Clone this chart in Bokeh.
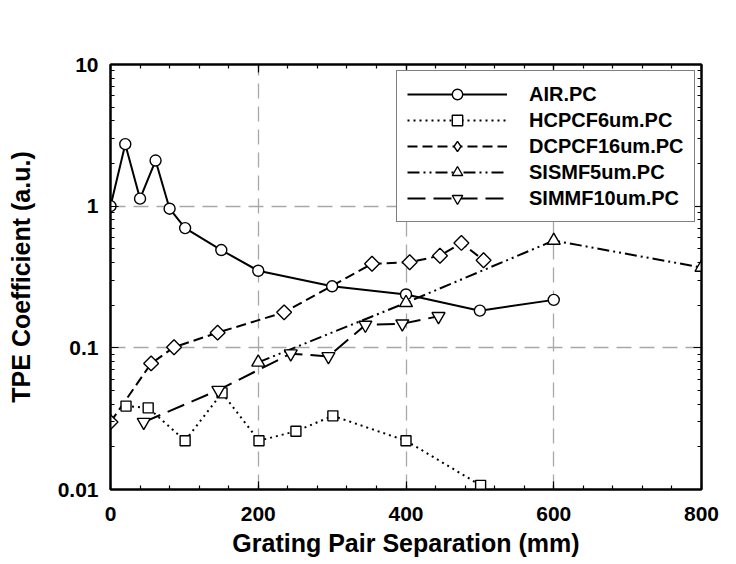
import math
from bokeh.plotting import figure
from bokeh.models import (Range1d, LinearAxis, LogAxis, FixedTicker, Legend, LegendItem)
from bokeh.embed import file_html
from bokeh.resources import INLINE

# ---- data ----
air_x = [0, 20, 40, 61, 80, 101, 150, 200, 300, 400, 500, 600]
air_y = [1.0, 2.74, 1.13, 2.10, 0.96, 0.70, 0.49, 0.35, 0.272, 0.238, 0.183, 0.218]

hc_x = [21, 51, 101, 151, 201, 251, 301, 400, 501]
hc_y = [0.0388, 0.0377, 0.0221, 0.0481, 0.0221, 0.0258, 0.0331, 0.0221, 0.0107]

dc_x = [0, 55, 86, 145, 235, 354, 405, 446, 475, 505]
dc_y = [0.0299, 0.0776, 0.101, 0.128, 0.178, 0.392, 0.402, 0.447, 0.550, 0.415]

sm_x = [200, 400, 600, 800]
sm_y = [0.079, 0.208, 0.572, 0.369]

mm_x = [45, 146, 244, 295, 345, 395, 444]
mm_y = [0.0299, 0.0503, 0.091, 0.087, 0.145, 0.148, 0.167]

x_ticks = [0, 200, 400, 600, 800]
x_tick_labels = ["0", "200", "400", "600", "800"]
x_minor = list(range(0, 801, 40))
y_ticks = [0.01, 0.1, 1, 10]
y_tick_labels = ["0.01", "0.1", "1", "10"]
y_minor = [m * 10.0 ** d for d in (-2, -1, 0) for m in range(1, 10)]

FONT = "Liberation Sans"

p = figure(width=736, height=564, y_axis_type="log",
           x_range=Range1d(0, 800), y_range=Range1d(0.01, 10),
           output_backend="svg", toolbar_location=None,
           min_border_left=110, min_border_right=35,
           min_border_top=64, min_border_bottom=75)
p.background_fill_color = "white"
p.border_fill_color = "white"
p.outline_line_color = "black"
p.outline_line_width = 2

xt = FixedTicker(ticks=x_ticks, minor_ticks=x_minor)
yt = FixedTicker(ticks=y_ticks, minor_ticks=y_minor)

def style_axis(ax, show_labels):
    ax.axis_line_color = "black"
    ax.axis_line_width = 2
    ax.major_tick_in = 8
    ax.major_tick_out = 0
    ax.minor_tick_in = 4
    ax.minor_tick_out = 0
    ax.major_tick_line_width = 1.2
    ax.minor_tick_line_width = 1.2
    if show_labels:
        ax.major_label_text_font = FONT
        ax.major_label_text_font_style = "bold"
        ax.major_label_text_font_size = "21px"
        ax.major_label_text_color = "black"
        ax.axis_label_text_font = FONT
        ax.axis_label_text_font_style = "bold"
        ax.axis_label_text_font_size = "25px"
        ax.axis_label_text_color = "black"
    else:
        ax.major_label_text_font_size = "2px"
        ax.major_label_text_alpha = 0.0
        ax.major_label_standoff = 0

xa = p.xaxis[0]
xa.ticker = xt
xa.major_label_overrides = {t: l for t, l in zip(x_ticks, x_tick_labels)}
xa.axis_label = "Grating Pair Separation (mm)"
style_axis(xa, True)
xa.major_label_standoff = 17
xa.axis_label_standoff = 5

ya = p.yaxis[0]
ya.ticker = yt
ya.major_label_overrides = {t: l for t, l in zip(y_ticks, y_tick_labels)}
ya.axis_label = "TPE Coefficient (a.u.)"
style_axis(ya, True)
ya.major_label_standoff = 12
ya.axis_label_standoff = 20

top = LinearAxis(ticker=xt)
style_axis(top, False)
p.add_layout(top, "above")
right = LogAxis(ticker=yt)
style_axis(right, False)
p.add_layout(right, "right")

for g, t in ((p.xgrid[0], xt), (p.ygrid[0], yt)):
    g.ticker = t
    g.grid_line_color = "#a8a8a8"
    g.grid_line_width = 1.3
    g.grid_line_dash = "15 8"

LW = 2
MK = dict(fill_color="white", line_color="black", line_width=1.4)

r1l = p.line(air_x, air_y, line_color="black", line_width=LW)
r2l = p.line(hc_x, hc_y, line_color="black", line_width=LW, line_dash="2 4")
r3l = p.line(dc_x, dc_y, line_color="black", line_width=LW, line_dash="10 5")
r4l = p.line(sm_x, sm_y, line_color="black", line_width=LW, line_dash="12 4 2 4 2 4")
r5l = p.line(mm_x, mm_y, line_color="black", line_width=LW, line_dash="18 8")

r1m = p.scatter(air_x, air_y, marker="circle", size=11, **MK)
r2m = p.scatter(hc_x, hc_y, marker="square", size=10, **MK)
# diamond glyph used for the legend key; it sits under the first plotted diamond
r3leg = p.scatter(dc_x[:1], dc_y[:1], marker="diamond", size=14, **MK)
r3m = p.scatter(dc_x, dc_y, marker="square", size=10.5, angle=math.pi / 4, **MK)
r4m = p.scatter(sm_x, sm_y, marker="triangle", size=13, **MK)
r5m = p.scatter(mm_x, mm_y, marker="inverted_triangle", size=13, **MK)

legend = Legend(items=[
    LegendItem(label="AIR.PC", renderers=[r1l, r1m]),
    LegendItem(label="HCPCF6um.PC", renderers=[r2l, r2m]),
    LegendItem(label="DCPCF16um.PC", renderers=[r3l, r3leg]),
    LegendItem(label="SISMF5um.PC", renderers=[r4l, r4m]),
    LegendItem(label="SIMMF10um.PC", renderers=[r5l, r5m]),
], location="top_right")
legend.margin = 6
legend.padding = 10
legend.spacing = 0
legend.glyph_width = 100
legend.glyph_height = 26
legend.label_height = 26
legend.label_width = 155
legend.label_standoff = 22
legend.label_text_font = FONT
legend.label_text_font_style = "bold"
legend.label_text_font_size = "20px"
legend.label_text_color = "black"
legend.border_line_color = "black"
legend.border_line_width = 1.5
legend.background_fill_color = "white"
legend.background_fill_alpha = 1.0
p.add_layout(legend, "center")

open("out.html", "w").write(file_html(p, INLINE))
